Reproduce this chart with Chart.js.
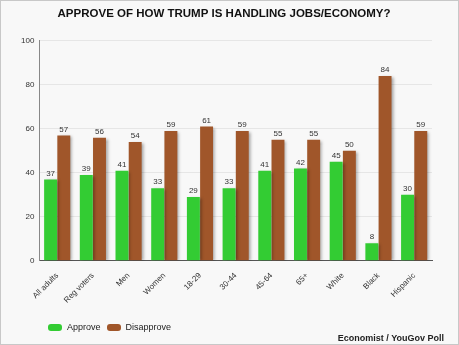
<!DOCTYPE html>
<html>
<head>
<meta charset="utf-8">
<script src="https://cdn.jsdelivr.net/npm/chart.js@4.4.0/dist/chart.umd.min.js"></script>
<style>
  html, body { margin: 0; padding: 0; background: #fff; }
  #wrap {
    position: relative; width: 459px; height: 345px; box-sizing: border-box;
    background: #f8f8f8; border: 1px solid #c8c8c8;
    font-family: "Liberation Sans", Arial, sans-serif;
  }
  #legend {
    position: absolute; left: 47px; top: 321px; font-size: 9px; color: #222;
    display: flex; align-items: center;
  }
  #legend span.box {
    display: inline-block; width: 14px; height: 7px; border-radius: 3px; margin-right: 5px;
  }
  #legend span.item { display: flex; align-items: center; margin-right: 6px; }
  #source {
    position: absolute; right: 14px; top: 332px;
    font-weight: bold; font-size: 9px; color: #222;
  }
</style>
</head>
<body>
<div id="wrap">
  <canvas id="chart" width="457" height="343"></canvas>
  <div id="legend"></div>
  <div id="source">Economist / YouGov Poll</div>
</div>
<script>
// ─ Data ──────────────────────────────────────────────────────────────────────
const groups     = ['All adults', 'Reg voters', 'Men', 'Women', '18-29', '30-44', '45-64', '65+', 'White', 'Black', 'Hispanic'];
const approve    = [37, 39, 41, 33, 29, 33, 41, 42, 45, 8, 30];
const disapprove = [57, 56, 54, 59, 61, 59, 55, 55, 50, 84, 59];
const yTicks     = [0, 20, 40, 60, 80, 100];

const GREEN = '#33cc33';
const BROWN = '#a0562a';
const FONT  = '"Liberation Sans", Arial, sans-serif';

Chart.defaults.font.family = FONT;
Chart.defaults.color = '#333';

// ─ Drop shadow behind each bar ────────────────────────────────────────────────
const barShadow = {
  id: 'barShadow',
  beforeDatasetDraw(chart) {
    const ctx = chart.ctx;
    ctx.save();
    ctx.shadowColor = 'rgba(0,0,0,0.35)';
    ctx.shadowBlur = 3;
    ctx.shadowOffsetX = 2;
    ctx.shadowOffsetY = 1;
  },
  afterDatasetDraw(chart) { chart.ctx.restore(); }
};

// ─ Value labels above the bars ────────────────────────────────────────────────
const valueLabels = {
  id: 'valueLabels',
  afterDatasetsDraw(chart) {
    const ctx = chart.ctx;
    ctx.save();
    ctx.font = '8px ' + FONT;
    ctx.fillStyle = '#333';
    ctx.textAlign = 'center';
    ctx.textBaseline = 'bottom';
    chart.data.datasets.forEach((ds, i) => {
      chart.getDatasetMeta(i).data.forEach((bar, j) => {
        ctx.fillText(ds.data[j], bar.x, bar.y - 2);
      });
    });
    ctx.restore();
  }
};

const chart = new Chart(document.getElementById('chart'), {
  type: 'bar',
  data: {
    labels: groups,
    datasets: [
      { label: 'Approve',    data: approve,    backgroundColor: GREEN },
      { label: 'Disapprove', data: disapprove, backgroundColor: BROWN }
    ]
  },
  options: {
    responsive: false,
    animation: false,
    categoryPercentage: 0.74,
    barPercentage: 0.98,
    layout: { padding: { left: 15, right: 26, top: 2, bottom: 37 } },
    plugins: {
      title: {
        display: true,
        text: 'APPROVE OF HOW TRUMP IS HANDLING JOBS/ECONOMY?',
        font: { size: 11.5, weight: 'bold' },
        color: '#111',
        padding: { top: 4, bottom: 20 }
      },
      legend: { display: false },
      tooltip: { enabled: false }
    },
    scales: {
      x: {
        grid: { display: false },
        border: { color: '#555', width: 1 },
        ticks: { minRotation: 45, maxRotation: 45, font: { size: 8 }, color: '#333', padding: 2 }
      },
      y: {
        min: 0, max: 100,
        afterBuildTicks: axis => { axis.ticks = yTicks.map(v => ({ value: v })); },
        grid: { color: '#e6e6e6', drawTicks: false },
        border: { color: '#888', width: 1 },
        ticks: { font: { size: 8 }, color: '#333', padding: 5 }
      }
    }
  },
  plugins: [barShadow, valueLabels]
});

// ─ Legend under the plot ──────────────────────────────────────────────────────
document.getElementById('legend').innerHTML = chart.data.datasets.map(ds =>
  `<span class="item"><span class="box" style="background:${ds.backgroundColor}"></span>${ds.label}</span>`
).join('');
</script>
</body>
</html>
